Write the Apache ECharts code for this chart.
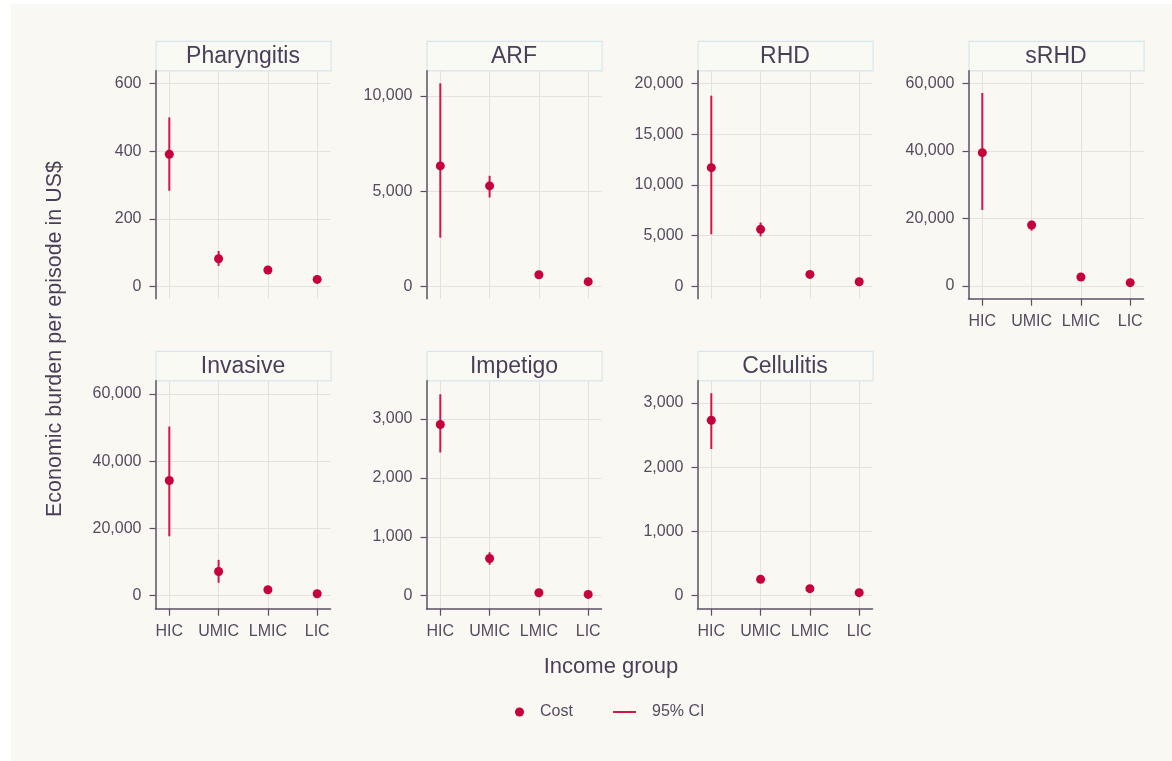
<!DOCTYPE html>
<html>
<head>
<meta charset="utf-8">
<title>Economic burden per episode by income group</title>
<script src="https://cdn.jsdelivr.net/npm/echarts@6/dist/echarts.min.js"></script>
<style>
  html, body { margin: 0; padding: 0; background: #ffffff; }
  #backdrop { position: absolute; left: 11px; top: 4px; right: 0; bottom: 0; background: #f9f8f2; }
  #chart { position: absolute; left: 0; top: 0; width: 1172px; height: 761px; }
</style>
</head>
<body>
<div id="backdrop"></div>
<div id="chart"></div>
<script>
// Income groups shown on every x axis
const incomeGroups = ['HIC', 'UMIC', 'LMIC', 'LIC'];

// Panels, in reading order
const diseases = ['Pharyngitis', 'ARF', 'RHD', 'sRHD', 'Invasive', 'Impetigo', 'Cellulitis'];

// Cost per episode (US$) with 95% confidence limits, one value per income group
const pharyngitisCost = [391, 82, 49, 21];
const pharyngitisLow  = [283, 61, 44, 18];
const pharyngitisHigh = [500, 105, 54, 24];

const arfCost = [6330, 5280, 610, 250];
const arfLow  = [2560, 4670, 520, 210];
const arfHigh = [10670, 5810, 700, 290];

const rhdCost = [11700, 5620, 1180, 460];
const rhdLow  = [5130, 4930, 960, 380];
const rhdHigh = [18790, 6290, 1400, 540];

const srhdCost = [39500, 18070, 2670, 990];
const srhdLow  = [22520, 16400, 2200, 800];
const srhdHigh = [57190, 19360, 3150, 1180];

const invasiveCost = [34300, 7210, 1780, 590];
const invasiveLow  = [17690, 3860, 1400, 480];
const invasiveHigh = [50330, 10680, 2160, 700];

const impetigoCost = [2904, 631, 51, 22];
const impetigoLow  = [2430, 525, 40, 17];
const impetigoHigh = [3418, 738, 62, 27];

const cellulitisCost = [2730, 254, 109, 47];
const cellulitisLow  = [2282, 225, 95, 40];
const cellulitisHigh = [3151, 283, 123, 54];

// Y tick labels for each panel
const pharyngitisTicks = [0, 200, 400, 600];
const arfTicks = [0, 5000, 10000];
const rhdTicks = [0, 5000, 10000, 15000, 20000];
const srhdTicks = [0, 20000, 40000, 60000];
const invasiveTicks = [0, 20000, 40000, 60000];
const impetigoTicks = [0, 1000, 2000, 3000];
const cellulitisTicks = [0, 1000, 2000, 3000];

const panelData = [
  { cost: pharyngitisCost, low: pharyngitisLow, high: pharyngitisHigh, ticks: pharyngitisTicks },
  { cost: arfCost, low: arfLow, high: arfHigh, ticks: arfTicks },
  { cost: rhdCost, low: rhdLow, high: rhdHigh, ticks: rhdTicks },
  { cost: srhdCost, low: srhdLow, high: srhdHigh, ticks: srhdTicks },
  { cost: invasiveCost, low: invasiveLow, high: invasiveHigh, ticks: invasiveTicks },
  { cost: impetigoCost, low: impetigoLow, high: impetigoHigh, ticks: impetigoTicks },
  { cost: cellulitisCost, low: cellulitisLow, high: cellulitisHigh, ticks: cellulitisTicks }
];

// Layout: grid placement, y extents and which panels carry an x axis
const colLeft = [155.5, 426.5, 697.5, 968.5];
const plotWidth = 175;
const rowTop = [70.7, 380.7];
const plotHeight = 228;
const titleHeight = 29.5;
const yExtent = [
  [-36, 638], [-647, 11333], [-1214, 21254], [-3763, 63791],
  [-3857, 63976], [-220, 3648], [-203, 3346]
];
const showXAxis = [false, false, false, true, true, true, true];

// Styling
const titleColor = '#4b3e58';
const labelColor = '#574a60';
const axisColor = '#5e4f65';
const gridColor = '#e3e2dc';
const dotColor = '#c5003a';
const ciColor = '#d21747';
const fontFamily = '"Liberation Sans", Arial, sans-serif';

const fmt = v => Number(v).toLocaleString('en-US');

const grids = [], xAxes = [], yAxes = [], series = [], graphics = [];

diseases.forEach((name, i) => {
  const row = i < 4 ? 0 : 1;
  const col = i < 4 ? i : i - 4;
  const left = colLeft[col];
  const top = rowTop[row];
  const d = panelData[i];
  const xVals = incomeGroups.map((g, k) => k + 1);

  grids.push({ left: left, top: top, width: plotWidth, height: plotHeight, containLabel: false });

  xAxes.push({
    type: 'value', gridIndex: i, min: 0.72, max: 4.27,
    axisLine: { show: showXAxis[i], onZero: false, lineStyle: { color: axisColor, width: 1.5 } },
    axisTick: { show: showXAxis[i], customValues: xVals, length: 7, lineStyle: { color: axisColor, width: 1.2 } },
    axisLabel: {
      show: showXAxis[i], customValues: xVals, margin: 15,
      formatter: v => incomeGroups[Math.round(v) - 1],
      color: labelColor, fontSize: 16, fontFamily: fontFamily
    },
    splitLine: { show: true, lineStyle: { color: gridColor, width: 1 } }
  });

  yAxes.push({
    type: 'value', gridIndex: i, min: yExtent[i][0], max: yExtent[i][1],
    axisLine: { show: true, onZero: false, lineStyle: { color: axisColor, width: 1.5 } },
    axisTick: { show: true, customValues: d.ticks, length: 6, lineStyle: { color: axisColor, width: 1.2 } },
    axisLabel: {
      customValues: d.ticks, margin: 14, formatter: fmt,
      color: labelColor, fontSize: 16, fontFamily: fontFamily
    },
    splitLine: { show: true, lineStyle: { color: gridColor, width: 1 } }
  });

  series.push({
    name: '95% CI', type: 'custom', xAxisIndex: i, yAxisIndex: i,
    data: xVals.map((x, k) => [x, d.low[k], d.high[k]]),
    encode: { x: 0, y: [1, 2] },
    itemStyle: { color: ciColor },
    renderItem: (params, api) => {
      const x = api.value(0);
      const p0 = api.coord([x, api.value(1)]);
      const p1 = api.coord([x, api.value(2)]);
      return {
        type: 'line',
        shape: { x1: p0[0], y1: p0[1], x2: p1[0], y2: p1[1] },
        style: { stroke: ciColor, lineWidth: 2 }
      };
    },
    z: 2
  });

  series.push({
    name: 'Cost', type: 'scatter', xAxisIndex: i, yAxisIndex: i,
    data: xVals.map((x, k) => [x, d.cost[k]]),
    symbol: 'circle', symbolSize: 9,
    itemStyle: { color: dotColor, opacity: 1 },
    z: 3
  });

  // Panel header strip
  graphics.push({
    type: 'rect', left: left, top: top - titleHeight - 0.5,
    shape: { width: plotWidth, height: titleHeight },
    style: { fill: '#fafaf5', stroke: '#d7e5ec', lineWidth: 1.2 }
  });
  graphics.push({
    type: 'text', x: left + plotWidth / 2, y: top - titleHeight / 2 + 1,
    style: {
      text: name, textAlign: 'center', textVerticalAlign: 'middle',
      fill: titleColor, font: '23px ' + fontFamily
    }
  });
});

// Axis titles
graphics.push({
  type: 'text', x: 55, y: 339, rotation: Math.PI / 2,
  style: {
    text: 'Economic burden per episode in US$', textAlign: 'center', textVerticalAlign: 'middle',
    fill: titleColor, font: '21.5px ' + fontFamily
  }
});
graphics.push({
  type: 'text', x: 611, y: 667,
  style: {
    text: 'Income group', textAlign: 'center', textVerticalAlign: 'middle',
    fill: titleColor, font: '22px ' + fontFamily
  }
});

const chart = echarts.init(document.getElementById('chart'), null, { renderer: 'canvas' });
chart.setOption({
  backgroundColor: 'transparent',
  animation: false,
  grid: grids,
  xAxis: xAxes,
  yAxis: yAxes,
  series: series,
  legend: [
    {
      data: [{ name: 'Cost', icon: 'circle' }],
      left: 510, top: 699, itemWidth: 9, itemHeight: 9,
      textStyle: { color: labelColor, fontSize: 16, fontFamily: fontFamily, padding: [0, 0, 0, 11] },
      selectedMode: false
    },
    {
      data: [{ name: '95% CI', icon: 'rect' }],
      left: 608, top: 699, itemWidth: 23, itemHeight: 2,
      itemStyle: { color: ciColor },
      textStyle: { color: labelColor, fontSize: 16, fontFamily: fontFamily, padding: [0, 0, 0, 11] },
      selectedMode: false
    }
  ],
  graphic: graphics
});
</script>
</body>
</html>
